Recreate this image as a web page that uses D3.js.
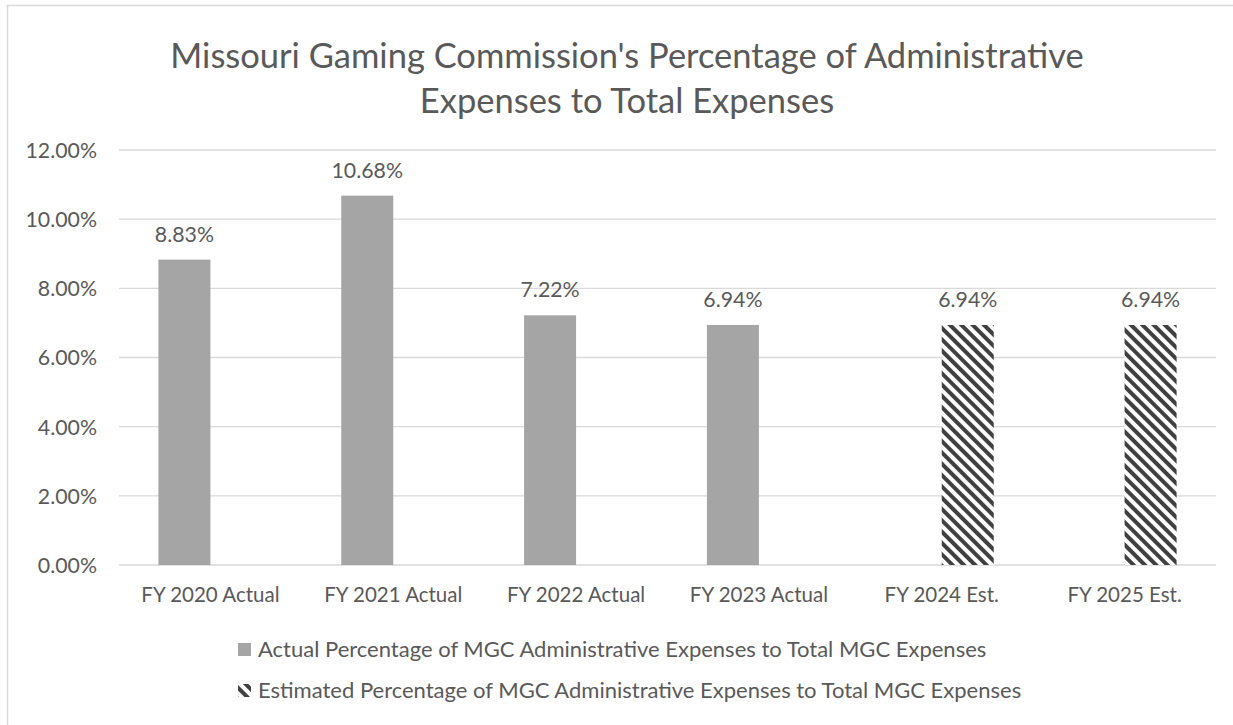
<!DOCTYPE html>
<html><head><meta charset="utf-8">
<script src="https://cdn.jsdelivr.net/npm/d3@7"></script>
<style>body{margin:0;background:#fff}svg{display:block}text{font-family:Lato,"Open Sans",sans-serif;fill:#595959}</style>
</head><body>
<svg id="c" width="1233" height="725"></svg>
<script>
const categories = ["FY 2020 Actual","FY 2021 Actual","FY 2022 Actual","FY 2023 Actual","FY 2024 Est.","FY 2025 Est."];
const actualValues = [8.83, 10.68, 7.22, 6.94, null, null];
const estimatedValues = [null, null, null, null, 6.94, 6.94];
const yTicks = [0,2,4,6,8,10,12];
const seriesNames = ["Actual Percentage of MGC Administrative Expenses to Total MGC Expenses","Estimated Percentage of MGC Administrative Expenses to Total MGC Expenses"];
const titleLines = ["Missouri Gaming Commission's Percentage of Administrative","Expenses to Total Expenses"];

const svg = d3.select("#c");
const defs = svg.append("defs");
const pat = defs.append("pattern").attr("id","hatch").attr("patternUnits","userSpaceOnUse")
  .attr("width",8).attr("height",8).attr("patternTransform","rotate(-45)");
pat.append("rect").attr("width",8).attr("height",8).attr("fill","#fff");
pat.append("rect").attr("width",4).attr("height",8).attr("fill","#404040");

svg.append("path").attr("d","M7.5,725 V5.5 H1233").attr("fill","none").attr("stroke","#d9d9d9").attr("stroke-width",1.5);

svg.append("text").attr("text-anchor","middle").attr("font-size",34.5)
  .selectAll("tspan").data(titleLines).join("tspan").attr("x",627).attr("y",(d,i)=>68+i*45).text(d=>d);

const x = d3.scaleBand().domain(categories).range([119,1216]);
const slot = d3.scaleBand().domain(["actual","estimated"]).range([-52,52]);
const y = d3.scaleLinear().domain([0,12]).range([565,150]);

const g = svg.append("g");
g.selectAll("line.grid").data(yTicks).join("line").attr("class","grid")
  .attr("x1",119).attr("x2",1216).attr("y1",d=>y(d)).attr("y2",d=>y(d))
  .attr("stroke","#d9d9d9").attr("stroke-width",1.3);

const yAxis = d3.axisLeft(y).tickValues(yTicks).tickFormat(d=>d.toFixed(2)+"%").tickSize(0).tickPadding(0);
const ya = svg.append("g").attr("transform","translate(97,0)").call(yAxis);
ya.select(".domain").remove();
ya.selectAll("text").attr("font-size",21.3).attr("fill","#595959").attr("font-family","Lato").attr("dy","0.35em");

const xAxis = d3.axisBottom(x).tickSize(0).tickPadding(0);
const xa = svg.append("g").attr("transform","translate(0,602)").call(xAxis);
xa.select(".domain").remove();
xa.selectAll("text").attr("font-size",20.5).attr("fill","#595959").attr("font-family","Lato").attr("dy","0");

function drawSeries(vals, key, fill){
  const data = categories.map((c,i)=>({c,v:vals[i]})).filter(d=>d.v!=null);
  const cx = d => x(d.c)+x.bandwidth()/2+slot(key);
  g.selectAll(null).data(data).join("rect")
    .attr("x",cx).attr("width",slot.bandwidth())
    .attr("y",d=>y(d.v)).attr("height",d=>y(0)-y(d.v)).attr("fill",fill);
  g.selectAll(null).data(data).join("text")
    .attr("x",d=>cx(d)+slot.bandwidth()/2).attr("y",d=>y(d.v)-18)
    .attr("text-anchor","middle").attr("font-size",21.3).text(d=>d.v.toFixed(2)+"%");
}
drawSeries(actualValues,"actual","#a5a5a5");
drawSeries(estimatedValues,"estimated","url(#hatch)");

const leg = svg.append("g");
const fills = ["#a5a5a5","url(#hatch)"];
seriesNames.forEach((s,i)=>{
  const ly = 657 + i*41;
  leg.append("rect").attr("x",238).attr("y",ly-14).attr("width",13).attr("height",13).attr("fill",fills[i]);
  leg.append("text").attr("x",258).attr("y",ly).attr("font-size",22).text(s);
});
</script>
</body></html>
